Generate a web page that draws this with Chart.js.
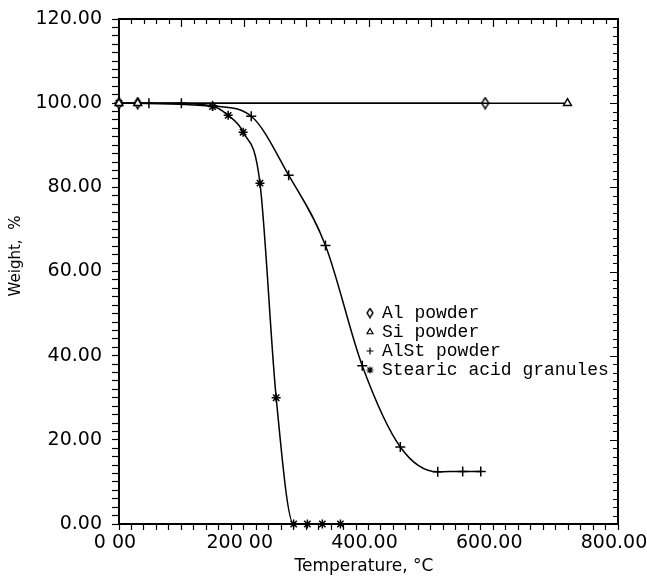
<!DOCTYPE html>
<html lang="en">
<head>
  <meta charset="UTF-8" />
  <title>Weight vs Temperature</title>
  <script src="https://cdn.jsdelivr.net/npm/chart.js"></script>
  <style>
    html, body { margin: 0; padding: 0; background: #fff; }
    #wrap { width: 647px; height: 577px; }
  </style>
</head>
<body>
  <div id="wrap"><canvas id="tga" width="647" height="577"></canvas></div>

  <script>
    // Data (temperature in °C, weight in %)
    const alTemp = [0, 30, 587];
    const alWeight = [100, 100, 100];

    const siTemp = [0, 30, 719];
    const siWeight = [100, 100, 100];

    const alstTemp = [0, 48, 100, 150, 212, 272, 331, 390, 451, 511, 551, 580];
    const alstWeight = [100, 100, 100, 99.4, 96.9, 82.9, 66.2, 37.6, 18.3, 12.4, 12.5, 12.5];

    const stearicTemp = [0, 150, 175, 199, 226, 252, 280, 302, 326, 355];
    const stearicWeight = [100, 99.2, 97.1, 93.1, 81, 30, 0, 0, 0, 0];

    const xTickLabels = ["0 00", "200 00", "400.00", "600.00", "800.00"];
    const yTickLabels = ["0.00", "20.00", "40.00", "60.00", "80.00", "100.00", "120.00"];

    const legendNames = ["Al powder", "Si powder", "AlSt powder", "Stearic acid granules"];

    // tall, narrow open diamond like the original plotter symbol
    function makeDiamond(w, h) {
      const c = document.createElement("canvas");
      c.width = w + 2;
      c.height = h + 2;
      const g = c.getContext("2d");
      g.fillStyle = "#fff";
      g.strokeStyle = "#000";
      g.lineWidth = 1.4;
      g.beginPath();
      g.moveTo(c.width / 2, 1);
      g.lineTo(c.width - 1, c.height / 2);
      g.lineTo(c.width / 2, c.height - 1);
      g.lineTo(1, c.height / 2);
      g.closePath();
      g.fill();
      g.stroke();
      return c;
    }
    const diamond = makeDiamond(7, 11);
    const smallDiamond = makeDiamond(6, 9);

    function toPoints(xs, ys) {
      return xs.map((x, i) => ({ x: x, y: ys[i] }));
    }

    function series(label, xs, ys, style, radius, order) {
      return {
        label: label,
        data: toPoints(xs, ys),
        order: order,
        borderColor: "#000",
        backgroundColor: "#fff",
        borderWidth: 1.5,
        pointStyle: style,
        pointRadius: radius,
        pointBorderWidth: 1.5,
        pointBorderColor: "#000",
        pointBackgroundColor: "#fff",
        cubicInterpolationMode: "monotone",
        clip: false,
        fill: false
      };
    }

    // frame on top/right, inward ticks, titles and the in-plot legend
    const decorations = {
      id: "decorations",
      afterDraw(chart) {
        const ctx = chart.ctx;
        const xs = chart.scales.x;
        const ys = chart.scales.y;
        const a = chart.chartArea;
        ctx.save();
        ctx.strokeStyle = "#000";
        ctx.lineWidth = 2;
        ctx.beginPath();
        ctx.moveTo(a.left, a.top);
        ctx.lineTo(a.right, a.top);
        ctx.lineTo(a.right, a.bottom);
        ctx.stroke();

        ctx.lineWidth = 1.2;
        ctx.beginPath();
        for (let v = 20; v < 800; v += 20) {
          const px = Math.round(xs.getPixelForValue(v)) + 0.5;
          const len = v % 100 === 0 ? 8 : 5;
          ctx.moveTo(px, a.top);
          ctx.lineTo(px, a.top + len);
        }
        for (let v = 2; v < 120; v += 2) {
          const py = Math.round(ys.getPixelForValue(v)) + 0.5;
          const len = v % 20 === 0 ? 8 : 5;
          ctx.moveTo(a.right, py);
          ctx.lineTo(a.right - len, py);
        }
        ctx.stroke();

        // axis titles
        ctx.fillStyle = "#000";
        ctx.font = "17px 'DejaVu Sans'";
        ctx.textAlign = "center";
        ctx.textBaseline = "middle";
        ctx.fillText("Temperature, \u00B0C", 364, 567);

        ctx.save();
        ctx.translate(16, 256);
        ctx.rotate(-Math.PI / 2);
        ctx.font = "15px 'DejaVu Sans'";
        ctx.fillText("Weight,  %", 0, 0);
        ctx.restore();

        // legend
        ctx.font = "18px 'Liberation Mono'";
        ctx.textAlign = "left";
        const lx = 370, ly = 313, step = 19;
        const styles = [smallDiamond, "triangle", "cross", "star"];
        legendNames.forEach((name, i) => {
          const y = ly + i * step;
          ctx.fillStyle = "#fff";
          ctx.strokeStyle = "#000";
          Chart.helpers.drawPoint(ctx, {
            pointStyle: styles[i],
            radius: 3.5,
            borderWidth: 1.3
          }, lx, y);
          ctx.fillStyle = "#000";
          ctx.fillText(name, lx + 12, y);
        });
        ctx.restore();
      }
    };

    function generateChart() {
      const ctx = document.getElementById("tga").getContext("2d");
      Chart.defaults.font.family = "'DejaVu Sans'";
      Chart.defaults.color = "#000";

      new Chart(ctx, {
        type: "line",
        data: {
          datasets: [
            series("Al powder", alTemp, alWeight, diamond, 5, 1),
            series("Si powder", siTemp, siWeight, "triangle", 4.5, 0),
            series("AlSt powder", alstTemp, alstWeight, "cross", 5, 2),
            series("Stearic acid granules", stearicTemp, stearicWeight, "star", 4.5, 3)
          ]
        },
        options: {
          responsive: false,
          animation: false,
          layout: { padding: { top: 19, right: 29, left: 0, bottom: 0 } },
          plugins: {
            legend: { display: false },
            tooltip: { enabled: false }
          },
          scales: {
            x: {
              type: "linear",
              min: 0,
              max: 800,
              border: { display: true, color: "#000", width: 2 },
              grid: { drawOnChartArea: false, color: "#000", tickLength: 6, tickWidth: 1.2 },
              ticks: {
                stepSize: 20,
                autoSkip: false,
                maxRotation: 0,
                padding: 2,
                labelOffset: -4,
                font: { size: 19 },
                callback: (v) => (v % 200 === 0 ? xTickLabels[v / 200] : "")
              },
              afterFit(scale) {
                scale.height = 53;
                scale.paddingLeft = 0;
                scale.paddingRight = 0;
              }
            },
            y: {
              min: 0,
              max: 120,
              border: { display: true, color: "#000", width: 2 },
              grid: { drawOnChartArea: false, color: "#000", tickLength: 7, tickWidth: 1.2 },
              ticks: {
                stepSize: 2,
                autoSkip: false,
                padding: 10,
                font: { size: 19 },
                callback: (v) => (v % 20 === 0 ? yTickLabels[v / 20] : "")
              },
              afterFit(scale) {
                scale.width = 119;
                scale.paddingTop = 0;
                scale.paddingBottom = 0;
              }
            }
          }
        },
        plugins: [decorations]
      });
    }

    document.addEventListener("DOMContentLoaded", generateChart);
  </script>
</body>
</html>
